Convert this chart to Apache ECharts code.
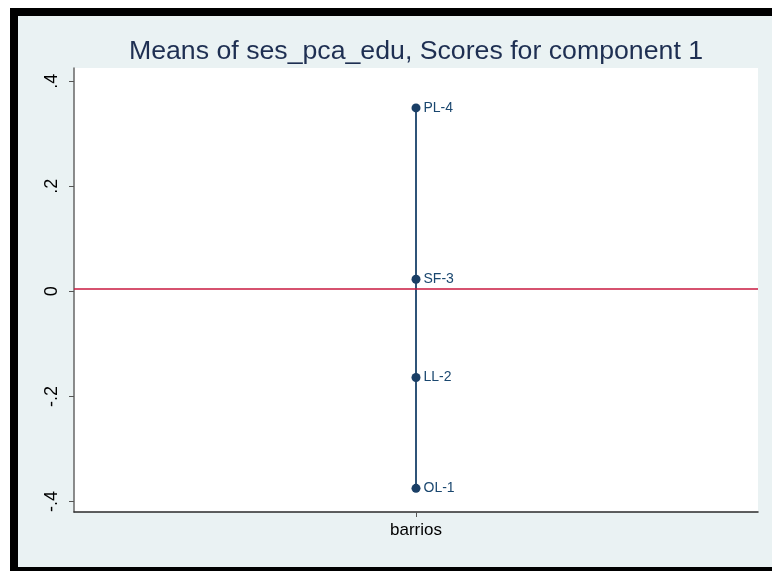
<!DOCTYPE html>
<html>
<head>
<meta charset="utf-8">
<script src="https://cdn.jsdelivr.net/npm/echarts@6/dist/echarts.min.js"></script>
<style>
html, body { margin: 0; padding: 0; background: #fff; overflow: hidden; width: 772px; height: 571px; }
#frame {
    position: absolute; left: 10px; top: 8px;
    width: 800px; height: 551px;
    border: 8px solid #000;
    border-right: none;
    background: #eaf2f3;
}
#main { position: absolute; left: 0; top: 0; width: 796px; height: 551px; }
</style>
</head>
<body>
<div id="frame"><div id="main"></div></div>
<script>
// data
const categories = ['barrios'];
const groups = ['OL-1', 'LL-2', 'SF-3', 'PL-4'];
const means = [-0.375, -0.164, 0.023, 0.349];
const overallMean = 0.005;
const yTicks = [-0.4, -0.2, 0, 0.2, 0.4];

function fmt(v) {
    if (Math.abs(v) < 1e-9) return '0';
    let s = Math.abs(v).toFixed(1).replace(/^0/, '');
    return (v < 0 ? '-' : '') + s;
}

var myChart = echarts.init(document.getElementById('main'));
let option = {
    animation: false,
    title: {
        text: 'Means of ses_pca_edu, Scores for component 1',
        left: 'center',
        top: 17,
        textStyle: {
            color: '#1e2f52',
            fontFamily: 'Liberation Sans',
            fontWeight: 'normal',
            fontSize: 26.7
        }
    },
    grid: {
        left: 56,
        top: 52,
        width: 684,
        height: 444,
        show: true,
        backgroundColor: '#ffffff',
        borderWidth: 0
    },
    xAxis: {
        type: 'category',
        data: categories,
        axisLine: { onZero: false, lineStyle: { color: '#2b2b2b', width: 1.5 } },
        axisTick: { show: true, alignWithLabel: true, length: 5, lineStyle: { color: '#555' } },
        axisLabel: {
            color: '#000',
            fontFamily: 'Liberation Sans',
            fontSize: 17,
            margin: 10
        }
    },
    yAxis: {
        type: 'value',
        min: -0.42,
        max: 0.425,
        splitLine: { show: false },
        axisLine: { show: true, lineStyle: { color: '#666', width: 1.5 } },
        axisTick: {
            show: true,
            length: 5,
            customValues: yTicks,
            lineStyle: { color: '#555' }
        },
        axisLabel: {
            customValues: yTicks,
            rotate: 90,
            color: '#000',
            fontFamily: 'Liberation Sans',
            fontSize: 18,
            margin: 13,
            formatter: fmt
        }
    },
    series: [
        {
            name: 'ses_pca_edu',
            type: 'line',
            data: means.map((v, i) => [categories[0], v, groups[i]]),
            symbol: 'circle',
            symbolSize: 9,
            itemStyle: { color: '#1a3f66' },
            lineStyle: { color: '#2f5478', width: 2 },
            label: {
                show: true,
                position: 'right',
                distance: 3,
                color: '#1a476f',
                fontFamily: 'Liberation Sans',
                fontSize: 14,
                formatter: p => p.data[2]
            },
            markLine: {
                silent: true,
                symbol: 'none',
                precision: 4,
                label: { show: false },
                lineStyle: { color: '#c8193f', width: 1.5, type: 'solid' },
                data: [{ yAxis: overallMean }]
            },
            z: 3
        }
    ]
};
myChart.setOption(option);
</script>
</body>
</html>
